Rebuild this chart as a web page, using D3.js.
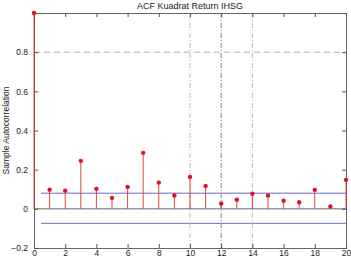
<!DOCTYPE html>
<html>
<head>
<meta charset="utf-8">
<script src="https://cdn.jsdelivr.net/npm/d3@7"></script>
<style>
body { margin: 0; background: #fff; }
text { font-family: "Liberation Sans", Arial, sans-serif; fill: #222; }
</style>
</head>
<body>
<svg width="351" height="259"></svg>
<script>
var lags = d3.range(0, 21);
var acf = [1.0, 0.098, 0.093, 0.245, 0.102, 0.056, 0.112, 0.286, 0.134, 0.068,
           0.163, 0.117, 0.027, 0.047, 0.077, 0.068, 0.041, 0.034, 0.097, 0.012, 0.148];
var bounds = [0.080, -0.074];
var yTicks = [-0.2, 0, 0.2, 0.4, 0.6, 0.8];
var xTicks = d3.range(0, 21, 2);
var vMarks = [10, 12, 14];
var hMark = 0.8;

var svg = d3.select("svg"),
    margin = {top: 13, right: 5, bottom: 11, left: 34},
    width = +svg.attr("width") - margin.left - margin.right,
    height = +svg.attr("height") - margin.top - margin.bottom;

var x = d3.scaleLinear().domain([0, 20]).range([0, width]);
var y = d3.scaleLinear().domain([-0.2, 1]).range([height, 0]);

var g = svg.append("g").attr("transform", "translate(" + margin.left + "," + margin.top + ")");

// reference lines
g.append("line")
    .attr("x1", 0).attr("x2", width)
    .attr("y1", y(hMark)).attr("y2", y(hMark))
    .attr("stroke", "#999").attr("stroke-dasharray", "6,4").attr("stroke-width", 0.8);

g.selectAll("line.vmark")
    .data(vMarks)
    .enter().append("line")
    .attr("class", "vmark")
    .attr("x1", function(d) { return x(d); }).attr("x2", function(d) { return x(d); })
    .attr("y1", 0).attr("y2", height)
    .attr("stroke", function(d) { return d === 12 ? "#666" : "#aaa"; })
    .attr("stroke-dasharray", "5,2,1,2").attr("stroke-width", 0.8);

// zero line and confidence bounds
g.append("line")
    .attr("x1", 0).attr("x2", width)
    .attr("y1", y(0)).attr("y2", y(0))
    .attr("stroke", "#555").attr("stroke-width", 0.9);

g.selectAll("line.bound")
    .data(bounds)
    .enter().append("line")
    .attr("class", "bound")
    .attr("x1", x(0.45)).attr("x2", width)
    .attr("y1", function(d) { return y(d); }).attr("y2", function(d) { return y(d); })
    .attr("stroke", "#6a6ac8").attr("stroke-width", 1);

// axes (box)
var axL = d3.axisLeft(y).tickValues(yTicks).tickSize(-4).tickPadding(6)
    .tickFormat(function(d) { return d === 0 ? "0" : d3.format(".1f")(d); });
var axB = d3.axisBottom(x).tickValues(xTicks).tickSize(-4).tickPadding(2).tickFormat(d3.format("d"));
var axT = d3.axisTop(x).tickValues(xTicks).tickSize(-4).tickFormat("");
var axR = d3.axisRight(y).tickValues(yTicks.concat([1])).tickSize(-4).tickFormat("");

[[axL, "translate(0,0)"], [axB, "translate(0," + height + ")"],
 [axT, "translate(0,0)"], [axR, "translate(" + width + ",0)"]].forEach(function(a) {
    var ax = g.append("g").attr("transform", a[1]).call(a[0]);
    ax.select(".domain").attr("stroke", "#555").attr("stroke-width", 0.9);
    ax.selectAll(".tick line").attr("stroke", "#555");
    ax.selectAll("text").style("font-size", "8.5px").attr("fill", "#222");
});

// stems
g.selectAll("line.stem")
    .data(lags)
    .enter().append("line")
    .attr("class", "stem")
    .attr("x1", function(d) { return x(d); }).attr("x2", function(d) { return x(d); })
    .attr("y1", y(0)).attr("y2", function(d) { return y(acf[d]); })
    .attr("stroke", "#e03030").attr("stroke-width", 0.9);

g.selectAll("circle")
    .data(lags)
    .enter().append("circle")
    .attr("cx", function(d) { return x(d); })
    .attr("cy", function(d) { return y(acf[d]); })
    .attr("r", 2.2)
    .attr("fill", "#e0102a");

svg.append("text")
    .attr("x", margin.left + width / 2).attr("y", 9)
    .attr("text-anchor", "middle")
    .style("font-size", "9px")
    .text("ACF Kuadrat Return IHSG");

svg.append("text")
    .attr("transform", "translate(9," + (margin.top + height / 2) + ") rotate(-90)")
    .attr("text-anchor", "middle")
    .style("font-size", "8.5px")
    .text("Sample Autocorrelation");
</script>
</body>
</html>
